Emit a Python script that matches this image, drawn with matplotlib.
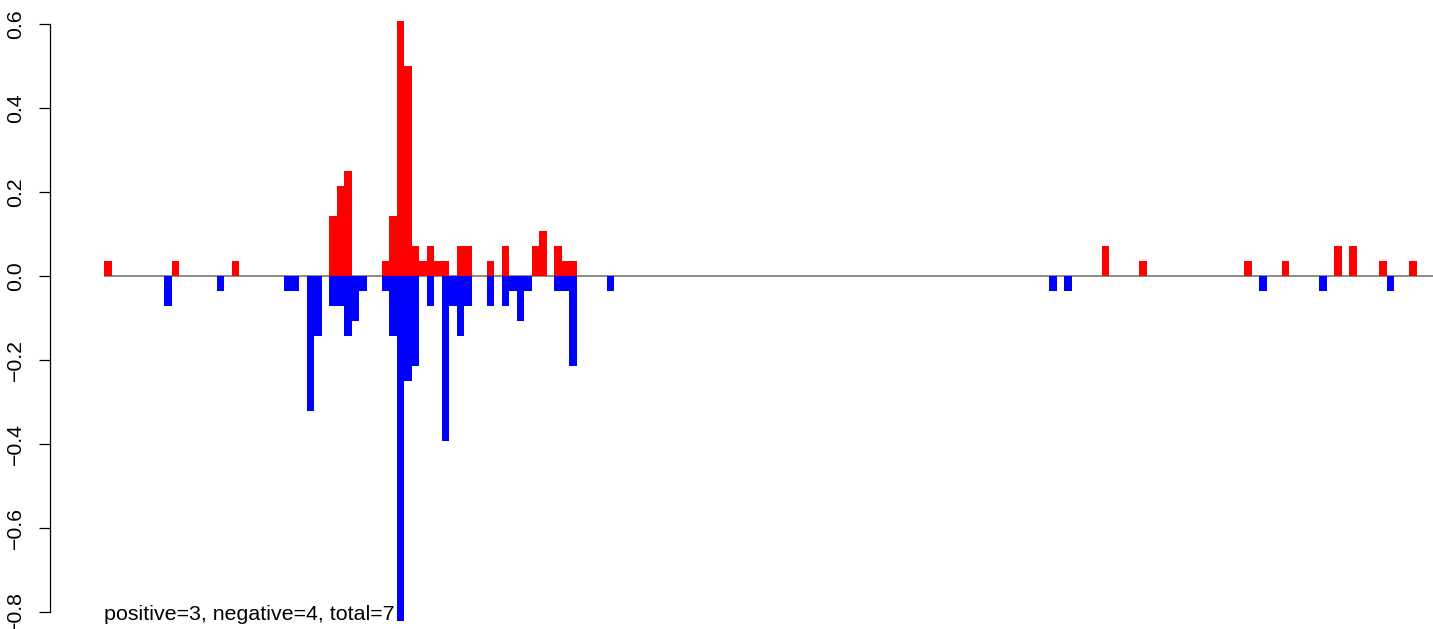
import matplotlib
matplotlib.use("Agg")
import matplotlib.pyplot as plt

# ---- data ----
pos_idx = [0, 9, 17, 30, 31, 32, 37, 38, 39, 40, 41, 42, 43, 44, 45, 47, 48,
           51, 53, 57, 58, 60, 61, 62, 133, 138, 152, 157, 164, 166, 170, 174]
pos_val = [0.0357, 0.0357, 0.0357, 0.1429, 0.2143, 0.25, 0.0357, 0.1429, 0.6071,
           0.5, 0.0714, 0.0357, 0.0714, 0.0357, 0.0357, 0.0714, 0.0714,
           0.0357, 0.0714, 0.0714, 0.1071, 0.0714, 0.0357, 0.0357,
           0.0714, 0.0357, 0.0357, 0.0357, 0.0714, 0.0714, 0.0357, 0.0357]

neg_idx = [8, 15, 24, 25, 27, 28, 30, 31, 32, 33, 34, 37, 38, 39, 40, 41, 43,
           45, 46, 47, 48, 51, 53, 54, 55, 56, 60, 61, 62, 67,
           126, 128, 154, 162, 171]
neg_val = [-0.0714, -0.0357, -0.0357, -0.0357, -0.3214, -0.1429, -0.0714, -0.0714,
           -0.1429, -0.1071, -0.0357, -0.0357, -0.1429, -0.8214, -0.25, -0.2143,
           -0.0714, -0.3929, -0.0714, -0.1429, -0.0714, -0.0714, -0.0714, -0.0357,
           -0.1071, -0.0357, -0.0357, -0.0357, -0.2143, -0.0357,
           -0.0357, -0.0357, -0.0357, -0.0357, -0.0357]

n_positions = 177
yticks = [-0.8, -0.6, -0.4, -0.2, 0.0, 0.2, 0.4, 0.6]
ytick_labels = ["\u22120.8", "\u22120.6", "\u22120.4", "\u22120.2", "0.0", "0.2", "0.4", "0.6"]
annotation = "positive=3, negative=4, total=7"

# ---- figure ----
plt.rcParams["font.family"] = ["Liberation Sans", "DejaVu Sans"]
W, H = 1433, 629
fig = plt.figure(figsize=(W / 100, H / 100), dpi=100)
ax = fig.add_axes([50 / W, 0, 1 - 50 / W, 1])
ax.set_xlim(-7.7, 176.7)
ax.set_ylim(-0.8405, 0.657)

ax.plot([-0.55, n_positions], [0, 0], color="#6a6a6a", lw=1.1, zorder=1,
        solid_capstyle="butt")
ax.bar(pos_idx, pos_val, width=1.0, color="#ff0000", linewidth=0, zorder=2,
       antialiased=False)
ax.bar(neg_idx, neg_val, width=1.0, color="#0000ff", linewidth=0, zorder=2,
       antialiased=False)

for s in ["top", "right", "bottom"]:
    ax.spines[s].set_visible(False)
ax.spines["left"].set_bounds(-0.8, 0.6)
ax.spines["left"].set_linewidth(0.9)
ax.set_xticks([])
ax.set_yticks(yticks)
ax.set_yticklabels(ytick_labels)
ax.tick_params(axis="y", direction="out", length=8, width=0.9, labelsize=15.3, pad=10)
for lbl in ax.get_yticklabels():
    lbl.set_rotation(90)
    lbl.set_va("center")

fig.text(104 / W, 9 / H, annotation, fontsize=15.4, ha="left", va="baseline")

fig.savefig("out.png", dpi=100)
